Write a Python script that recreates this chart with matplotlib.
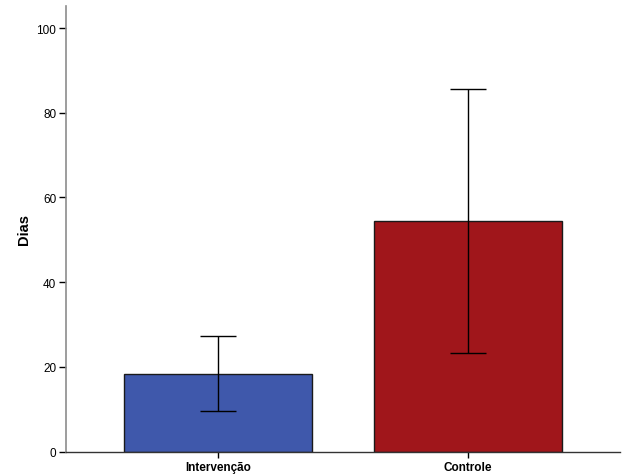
import numpy as np
import matplotlib
matplotlib.use("Agg")
import matplotlib.pyplot as plt

plt.rcParams['font.family'] = ['Liberation Sans', 'DejaVu Sans']

categories = ["Intervenção", "Controle"]
means = [18.3, 54.4]
err_low = [9.5, 23.2]
err_high = [27.2, 85.6]
colors = ["#3F58AB", "#A0161B"]

fig = plt.figure(figsize=(6.29, 4.77), dpi=100)
ax = fig.add_axes([66 / 629, 24.5 / 477, 554 / 629, 445.5 / 477])

x = np.arange(len(categories))
ax.bar(x, means, width=0.75, color=colors, edgecolor="#1a1a1a", linewidth=1.0, zorder=2)

yerr = np.array([np.array(means) - np.array(err_low), np.array(err_high) - np.array(means)])
ax.errorbar(x, means, yerr=yerr, fmt="none", ecolor="black", elinewidth=1.0,
            capsize=13.3, capthick=1.0, zorder=3)

ax.set_xlim(-0.608, 1.608)
ax.set_ylim(0, 105.2)
ax.set_yticks([0, 20, 40, 60, 80, 100])
ax.set_xticks(x)
ax.set_xticklabels(categories, fontsize=8.5, fontweight="bold")
ax.set_ylabel("Dias", fontsize=10.5, fontweight="bold", labelpad=4)

for s in ["top", "right"]:
    ax.spines[s].set_visible(False)
ax.spines["left"].set_color("#8c8c8c")
ax.spines["left"].set_linewidth(1.2)
ax.spines["bottom"].set_color("#333333")
ax.spines["bottom"].set_linewidth(1.0)
ax.tick_params(axis="y", length=5, width=1.0, labelsize=8.5, pad=2)
ax.tick_params(axis="x", length=4, width=1.0, pad=3)

fig.savefig("out.png", dpi=100)
